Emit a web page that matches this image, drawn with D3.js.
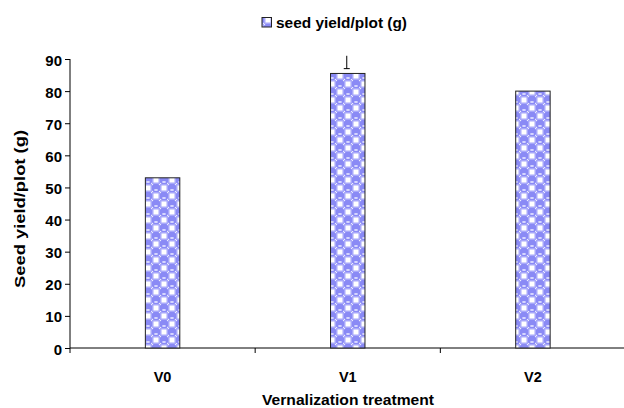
<!DOCTYPE html>
<html><head><meta charset="utf-8">
<script src="https://cdn.jsdelivr.net/npm/d3@7/dist/d3.min.js"></script>
<style>body{margin:0;background:#fff}svg{display:block;font-family:"Liberation Sans",Arial,sans-serif;font-weight:bold}</style>
</head><body><svg id="c" width="624" height="408"></svg>
<script>
const categories = ["V0","V1","V2"];
const values = [53, 85.5, 80];
const errTop = [null, 91, null];
const errCap = [null, 87, null];
const yTicks = [0,10,20,30,40,50,60,70,80,90];
const seriesName = "seed yield/plot (g)";
const yTitle = "Seed yield/plot (g)";
const xTitle = "Vernalization treatment";

const svg = d3.select("#c");
const defs = svg.append("defs");
const pat = defs.append("pattern").attr("id","pat").attr("patternUnits","userSpaceOnUse")
  .attr("width",16).attr("height",16);
pat.append("rect").attr("width",16).attr("height",16).attr("fill","#fff");
[[4,4],[12,12],[12,4],[4,12]].forEach(([cx,cy],i)=>{
  if(i<2){
    pat.append("circle").attr("cx",cx).attr("cy",cy).attr("r",4.7).attr("fill","#8a8af5");
    pat.append("ellipse").attr("cx",cx).attr("cy",cy+2).attr("rx",2).attr("ry",1).attr("fill","#dcdcff");
  } else {
    pat.append("rect").attr("x",cx-4).attr("y",cy-4).attr("width",8).attr("height",8).attr("fill","#a8a8fa");
    pat.append("rect").attr("x",cx-2.5).attr("y",cy-2.5).attr("width",5).attr("height",5).attr("fill","#fff");
  }
});

const x = d3.scaleBand().domain(categories).range([70, 625.5]).paddingInner(0).paddingOuter(0);
const y = d3.scaleLinear().domain([0,90]).range([348,59]);
const bw = x.bandwidth()*0.186;

// y axis
const ya = svg.append("g").attr("transform","translate(70,0)")
  .call(d3.axisLeft(y).tickValues(yTicks).tickSize(5).tickPadding(3));
ya.select(".domain").attr("stroke","#000").attr("d","M0,59V348");
ya.selectAll(".tick line").attr("stroke","#000");
ya.selectAll("text").attr("font-size",15).attr("font-weight","bold").attr("fill","#000")
  .attr("dy","0.4em").attr("font-family","Liberation Sans, Arial, sans-serif");

// x axis
const xa = svg.append("g").attr("transform","translate(0,348)");
xa.append("line").attr("x1",70).attr("x2",624).attr("stroke","#000");
const bounds = categories.map(c=>x(c)).concat([x.range()[1]]);
xa.selectAll("line.t").data(bounds).join("line").attr("class","t")
  .attr("x1",d=>d).attr("x2",d=>d).attr("y1",0).attr("y2",5).attr("stroke","#000");
xa.selectAll("text").data(categories).join("text")
  .attr("x",d=>x(d)+x.bandwidth()/2).attr("y",34).attr("text-anchor","middle")
  .attr("font-size",14.5).text(d=>d);

// bars
svg.selectAll("rect.bar").data(values).join("rect").attr("class","bar")
  .attr("x",(d,i)=>x(categories[i])+x.bandwidth()/2-bw/2)
  .attr("y",d=>y(d)).attr("width",bw).attr("height",d=>y(0)-y(d))
  .attr("fill","url(#pat)").attr("stroke","#222").attr("stroke-width",1);

// error bar
values.forEach((v,i)=>{
  if(errTop[i]==null) return;
  const cx = x(categories[i])+x.bandwidth()/2 - 1;
  svg.append("line").attr("x1",cx).attr("x2",cx).attr("y1",y(errTop[i])).attr("y2",y(errCap[i])).attr("stroke","#000");
  svg.append("line").attr("x1",cx-3).attr("x2",cx+3).attr("y1",y(errCap[i])).attr("y2",y(errCap[i])).attr("stroke","#000");
});

// legend
svg.append("rect").attr("x",262).attr("y",17.5).attr("width",9.5).attr("height",9.5)
  .attr("fill","url(#pat)").attr("stroke","#222");
svg.append("text").attr("x",276).attr("y",27.5).attr("font-size",14)
  .attr("textLength",131).attr("lengthAdjust","spacingAndGlyphs").text(seriesName);

// titles
svg.append("text").attr("transform","translate(25,209) rotate(-90)").attr("text-anchor","middle")
  .attr("font-size",14.5).attr("textLength",158).attr("lengthAdjust","spacingAndGlyphs").text(yTitle);
svg.append("text").attr("x",348).attr("y",405).attr("text-anchor","middle")
  .attr("font-size",14.5).attr("textLength",172).attr("lengthAdjust","spacingAndGlyphs").text(xTitle);
</script></body></html>
